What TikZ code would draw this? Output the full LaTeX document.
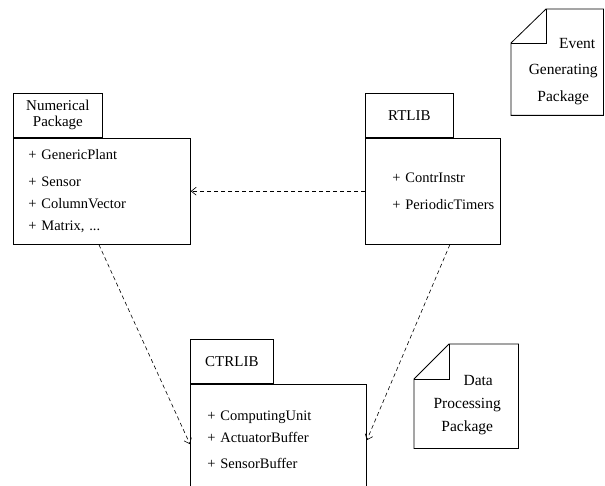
\documentclass[tikz,border=0pt]{standalone}
\usepackage{fontspec}
\setmainfont{Liberation Serif}
\usetikzlibrary{arrows.meta,positioning,calc}

\begin{document}
\begin{tikzpicture}[
  x=1pt, y=-1pt,
  font=\fontsize{15}{16}\selectfont,
  pkgtab/.style={draw, line width=0.8pt, minimum height=44pt, inner sep=0pt, align=center, anchor=north west},
  pkgbody/.style={draw, line width=0.8pt, minimum height=106pt, inner xsep=15pt, inner ysep=0pt, align=left, anchor=north west, font=\fontsize{14.5}{22}\selectfont},
  noteframe/.style={minimum width=#1, minimum height=#1, inner sep=0pt, anchor=north west},
  noteline/.style={line width=0.8pt, line join=miter},
  notetext/.style={align=center, inner sep=0pt},
  dep/.style={-{Straight Barb[length=5pt, width=8pt]}, line width=0.6pt, dash pattern=on 4pt off 3pt}
]
\useasboundingbox (0,0) rectangle (605,486);

% packages
\node[pkgtab, minimum width=89pt] (numtab) at (13,93) {Numerical\\Package};
\node[pkgbody, text width=147pt] (numbody) at (numtab.south west)
  {+~GenericPlant\\[5pt]+~Sensor\\+~ColumnVector\\+~Matrix, ...};

\node[pkgtab, minimum width=88pt] (rttab) at (365,93) {RTLIB};
\node[pkgbody, inner xsep=27pt, text width=81pt] (rtbody) at (rttab.south west)
  {\mbox{+~ContrInstr}\\[5pt]\mbox{+~PeriodicTimers}};

\node[pkgtab, minimum width=83pt] (ctrtab) at (190,339) {CTRLIB};
\node[pkgbody, inner xsep=17pt, text width=142pt, minimum height=112pt] (ctrbody) at (ctrtab.south west)
  {+~ComputingUnit\\+~ActuatorBuffer\\[4pt]+~SensorBuffer};

% notes
\node[noteframe=104pt, minimum width=92pt, minimum height=106pt] (event) at (511,9) {};
\draw[noteline] ($(event.north west)+(35,0)$) -- (event.north east) -- (event.south east)
  -- (event.south west) -- ($(event.north west)+(0,34)$) -- cycle;
\draw[noteline] ($(event.north west)+(0,34)$) -- ($(event.north west)+(35,34)$) -- ($(event.north west)+(35,0)$);
\node[notetext, font=\fontsize{15.5}{26.5}\selectfont] (eventtxt) at ($(event.center)+(6,9)$)
  {\hspace*{28pt}Event\\Generating\\Package};

\node[noteframe=104pt] (data) at (414,344) {};
\draw[noteline] ($(data.north west)+(35,0)$) -- (data.north east) -- (data.south east)
  -- (data.south west) -- ($(data.north west)+(0,35)$) -- cycle;
\draw[noteline] ($(data.north west)+(0,35)$) -- ($(data.north west)+(35,35)$) -- ($(data.north west)+(35,0)$);
\node[notetext, font=\fontsize{15.5}{23}\selectfont] (datatxt) at ($(data.center)+(1,9)$)
  {\hspace*{22pt}Data\\Processing\\Package};

% dependencies
\draw[dep] (rtbody.west) -- (numbody.east);
\draw[dep] ($(numbody.south)+(-3,0)$) -- ($(ctrbody.west)+(0,4)$);
\draw[dep] ($(rtbody.south)+(17,0)$) -- (ctrbody.east);
\end{tikzpicture}
\end{document}
